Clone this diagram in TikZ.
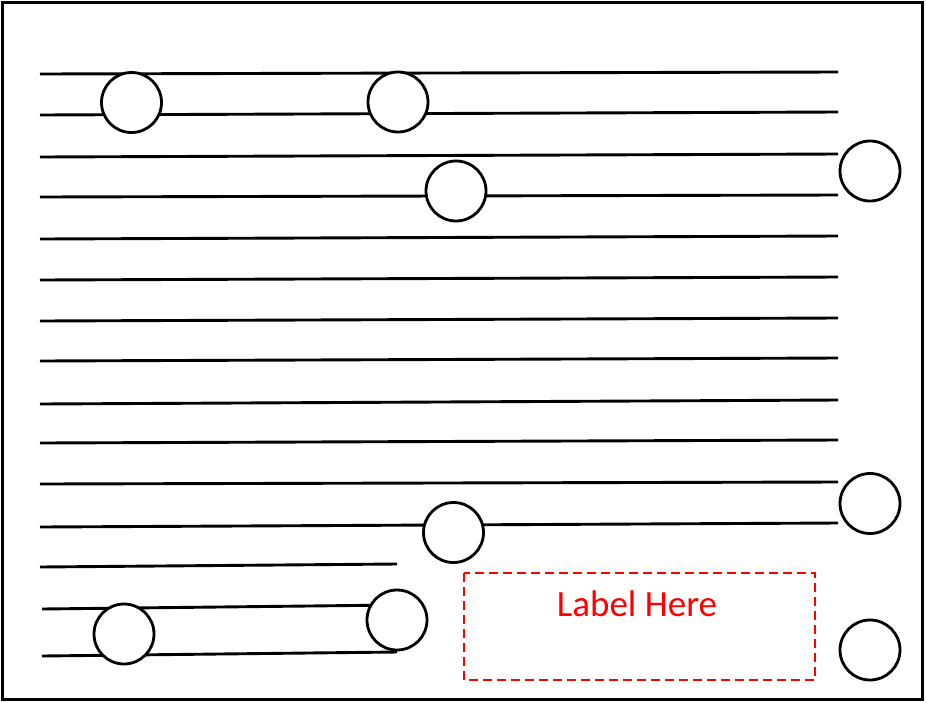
\documentclass[tikz,border=0pt]{standalone}
\usepackage{fontspec}
\setmainfont{Carlito}
\begin{document}
\begin{tikzpicture}[x=1pt,y=-1pt,
  wire/.style={line width=2.9pt},
  ball/.style={circle,draw,fill=white,line width=2.8pt,minimum size=60pt,inner sep=0pt},
  labelbox/.style={draw=red,dash pattern=on 9pt off 5pt,line width=1.5pt},
  frame/.style={draw,line width=3pt}]
\useasboundingbox (0,0) rectangle (926,702);
\draw[frame] (2,2) rectangle (922.5,699);
% wires
\foreach \yl/\yr in {74/72,115/112,157/154,197/195,239/236,280/277,321/318,361/358,404/400,443/440,484/482,527/523}{
  \draw[wire] (40,\yl) -- (838,\yr);
}
\coordinate (a13) at (40,567); \coordinate (b13) at (397,564);
\coordinate (a14) at (42,609); \coordinate (b14) at (397,605);
\coordinate (a15) at (42,656); \coordinate (b15) at (397,652);
\draw[wire] (a13) -- (b13);
\draw[wire] (a14) -- (b14);
\draw[wire] (a15) -- (b15);
% circles
\node[ball] (c1) at (131.5,102.5) {};
\node[ball] (c2) at (398,102) {};
\node[ball] (c3) at (456,191) {};
\node[ball] (c4) at (870,171) {};
\node[ball] (c5) at (870,503.5) {};
\node[ball] (c6) at (870,650) {};
\node[ball] (c7) at (453.5,532.5) {};
\node[ball] (c8) at (124,634) {};
\node[ball] (c9) at (397,620) {};
% label box
\draw[labelbox] (464,573) rectangle (815,680);
\node[text=red,font=\fontsize{37}{40}\selectfont,inner sep=0pt] (lbl) at (637,604) {Label Here};
\end{tikzpicture}
\end{document}
